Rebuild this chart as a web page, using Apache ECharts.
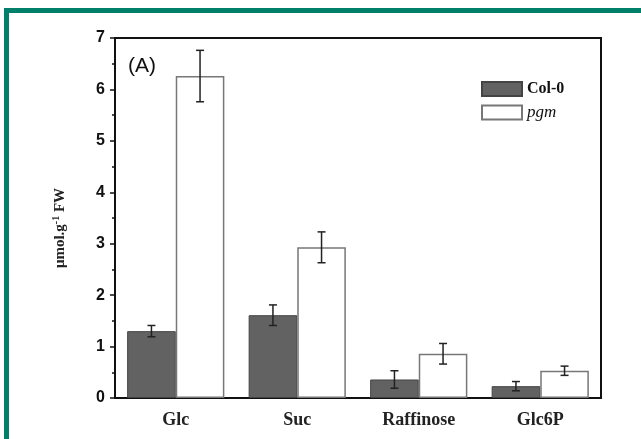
<!DOCTYPE html>
<html>
<head>
<meta charset="utf-8">
<script src="https://cdn.jsdelivr.net/npm/echarts@6/dist/echarts.min.js"></script>
<style>
  html, body { margin: 0; padding: 0; background: #fff; }
  #main { position: absolute; left: 0; top: 0; width: 641px; height: 439px; }
  .frame {
    position: absolute; left: 4px; top: 8px; width: 700px; height: 500px;
    border-top: 5px solid #00806a; border-left: 5px solid #00806a;
    pointer-events: none;
  }
</style>
</head>
<body>
<div id="main"></div>
<div class="frame"></div>
<script>
const categories = ["Glc", "Suc", "Raffinose", "Glc6P"];
const col0 = [1.3, 1.61, 0.36, 0.23];
const col0Err = [0.11, 0.2, 0.17, 0.09];
const pgm = [6.26, 2.93, 0.86, 0.53];
const pgmErr = [0.5, 0.3, 0.2, 0.09];
const yTicks = [0, 1, 2, 3, 4, 5, 6, 7];

const serif = "'Liberation Serif', 'Times New Roman', serif";
const sans = "'Liberation Sans', Arial, sans-serif";

function errData(vals, errs) {
  return vals.map((v, i) => [i, v - errs[i], v + errs[i]]);
}

function errRender(side) {
  return function (params, api) {
    const i = api.value(0);
    const lo = api.coord([i, api.value(1)]);
    const hi = api.coord([i, api.value(2)]);
    const bw = api.size([1, 0])[0] * 0.4;
    const x = lo[0] + side * bw / 2;
    const cap = 4;
    const style = { stroke: "#222", lineWidth: 1.5 };
    return {
      type: "group",
      children: [
        { type: "line", shape: { x1: x, y1: lo[1], x2: x, y2: hi[1] }, style },
        { type: "line", shape: { x1: x - cap, y1: lo[1], x2: x + cap, y2: lo[1] }, style },
        { type: "line", shape: { x1: x - cap, y1: hi[1], x2: x + cap, y2: hi[1] }, style }
      ]
    };
  };
}

const chart = echarts.init(document.getElementById("main"));
chart.setOption({
  backgroundColor: "#fff",
  animation: false,
  title: {
    text: "(A)",
    left: 128,
    top: 56,
    padding: 0,
    textStyle: { fontFamily: sans, fontSize: 21, fontWeight: "normal", color: "#111" }
  },
  legend: {
    orient: "vertical",
    left: 481,
    top: 81,
    padding: 0,
    icon: "rect",
    itemWidth: 40,
    itemHeight: 14,
    itemGap: 7,
    data: ["Col-0", "pgm"],
    formatter: (name) => (name === "pgm" ? "{i|pgm}" : "{b|Col-0}"),
    textStyle: {
      rich: {
        b: { fontFamily: serif, fontWeight: "bold", fontSize: 16, color: "#111" },
        i: { fontFamily: serif, fontStyle: "italic", fontSize: 17, color: "#111" }
      }
    }
  },
  grid: {
    left: 115,
    right: 40,
    top: 38,
    bottom: 41,
    show: true,
    borderColor: "#111",
    borderWidth: 2
  },
  xAxis: [
    {
      type: "category",
      data: categories,
      axisLine: { lineStyle: { color: "#111", width: 2 } },
      axisTick: { alignWithLabel: true, length: 6, lineStyle: { color: "#111", width: 1.5 } },
      axisLabel: {
        margin: 13,
        fontFamily: serif,
        fontWeight: "bold",
        fontSize: 18,
        color: "#222"
      }
    },
    {
      type: "category",
      data: categories,
      position: "bottom",
      axisLine: { show: false },
      axisTick: { length: 3, lineStyle: { color: "#111", width: 1.5 } },
      axisLabel: { show: false }
    }
  ],
  yAxis: {
    type: "value",
    min: 0,
    max: 7,
    interval: 1,
    name: "{a|μmol.g}{s|-1}{a| FW}",
    nameLocation: "middle",
    nameGap: 45,
    nameTextStyle: {
      padding: [0, 0, 0, -20],
      rich: {
        a: { fontFamily: serif, fontWeight: "bold", fontSize: 15, color: "#222" },
        s: { fontFamily: serif, fontWeight: "bold", fontSize: 10, color: "#222", verticalAlign: "top", padding: [0, 0, 9, 0] }
      }
    },
    axisLine: { show: true, lineStyle: { color: "#111", width: 2 } },
    axisTick: { show: true, length: 5, lineStyle: { color: "#111", width: 1.5 } },
    minorTick: { show: true, splitNumber: 2, length: 3, lineStyle: { color: "#111", width: 1.5 } },
    splitLine: { show: false },
    axisLabel: {
      margin: 10,
      fontFamily: sans,
      fontWeight: "bold",
      fontSize: 16,
      color: "#111",
      formatter: (v) => (yTicks.includes(v) ? String(v) : "")
    }
  },
  series: [
    {
      name: "Col-0",
      type: "bar",
      data: col0,
      barWidth: "40%",
      barGap: "0%",
      itemStyle: { color: "#626262", borderColor: "#444", borderWidth: 1 }
    },
    {
      name: "pgm",
      type: "bar",
      data: pgm,
      barWidth: "40%",
      barGap: "0%",
      itemStyle: { color: "#fff", borderColor: "#777", borderWidth: 1.5 }
    },
    {
      type: "custom",
      data: errData(col0, col0Err),
      renderItem: errRender(-1),
      z: 5,
      silent: true
    },
    {
      type: "custom",
      data: errData(pgm, pgmErr),
      renderItem: errRender(1),
      z: 5,
      silent: true
    }
  ]
});
</script>
</body>
</html>
